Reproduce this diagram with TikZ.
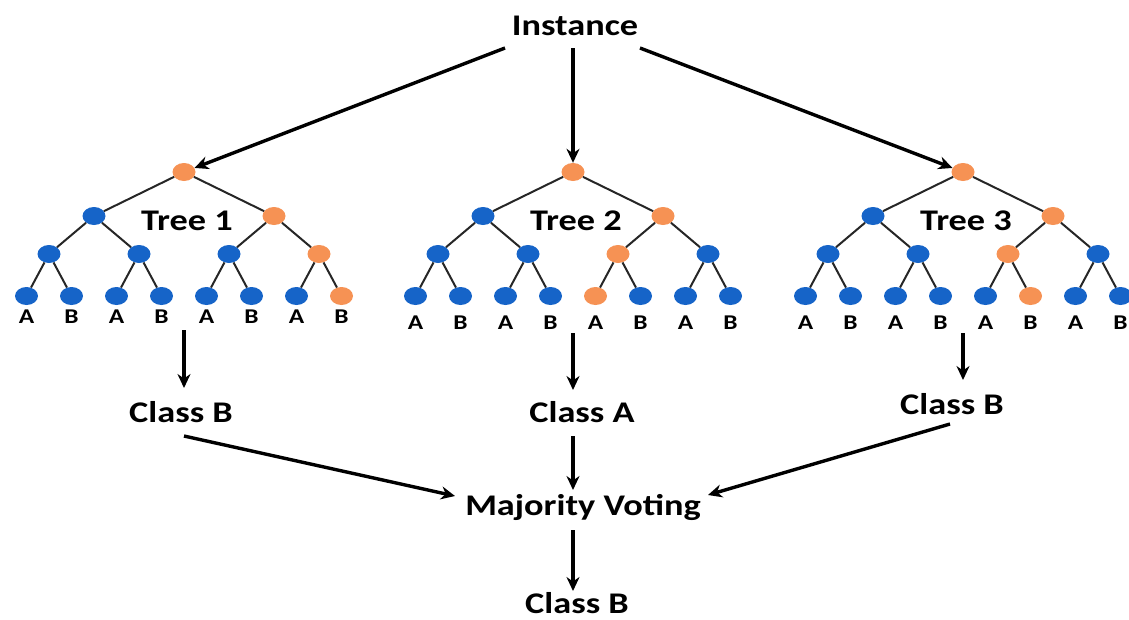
\documentclass[tikz,border=0pt]{standalone}
\usepackage{fontspec}
\usepackage{graphicx}
\setmainfont{Carlito}
\usetikzlibrary{arrows.meta,calc,shapes.geometric}
\definecolor{blu}{RGB}{22,100,200}
\definecolor{orng}{RGB}{246,146,84}
\newcommand\sx[1]{\scalebox{1.21}[1]{#1}}
\tikzset{
  tn/.style={ellipse,minimum width=23pt,minimum height=18pt,inner sep=0pt},
  edge/.style={draw=black!85,line width=2pt},
  arr/.style={draw=black,line width=3.4pt,-{Stealth[length=14pt,width=13pt]}},
  big/.style={font=\fontsize{30}{32}\selectfont\bfseries,inner sep=0pt,anchor=base},
  lbl/.style={font=\fontsize{21}{22}\selectfont\bfseries,inner sep=0pt,anchor=base},
}
\newcommand\drawtree[6]{%
  \node[tn,fill=orng] (#1r) at (#2,172) {};
  \node[tn,fill=blu] (#1l1) at (#2-90,216) {};
  \node[tn,fill=orng] (#1l2) at (#2+90,216) {};
  \foreach \i in {1,...,4}{%
    \def\col{blu}\ifnum\i=#3 \def\col{orng}\fi
    \node[tn,fill=\col] (#1m\i) at (#2+90*\i-225,254) {};
  }
  \foreach \j/\t in {1/A,2/B,3/A,4/B,5/A,6/B,7/A,8/B}{%
    \def\col{blu}\ifnum\j=#4 \def\col{orng}\fi
    \node[tn,fill=\col] (#1f\j) at (#2+45*\j-202.5,296) {};
    \node[lbl] (#1t\j) at (#2+45*\j-202.5,#5) {\sx{\t}};
  }
  \foreach \p/\c in {r/l1,r/l2,l1/m1,l1/m2,l2/m3,l2/m4,m1/f1,m1/f2,m2/f3,m2/f4,m3/f5,m3/f6,m4/f7,m4/f8}
    \draw[edge] (#1\p) -- (#1\c);
  \node[big] (#1name) at (#2+3,230) {\sx{#6}};
}
\begin{document}
\begin{tikzpicture}[x=1pt,y=-1pt]
\useasboundingbox (0,0) rectangle (1129,619);
\drawtree{a}{184}{4}{8}{323}{Tree 1}
\drawtree{b}{573}{3}{5}{329}{Tree 2}
\drawtree{c}{963}{3}{6}{329}{Tree 3}
\node[big] (inst) at (575,35) {\sx{Instance}};
\coordinate (s1) at (505,48);
\coordinate (s2) at (573,48);
\coordinate (s3) at (640,48);
\draw[arr] (s1) -- (ar);
\draw[arr] (s2) -- (br);
\draw[arr] (s3) -- (cr);
\node[big] (ca) at (181,422) {\sx{Class B}};
\node[big] (cb) at (582,422) {\sx{Class A}};
\node[big] (cc) at (952,414) {\sx{Class B}};
\coordinate (p1) at (184,330);
\coordinate (p2) at (573,333);
\coordinate (p3) at (963,333);
\coordinate (q1) at (184,388);
\coordinate (q2) at (573,390);
\coordinate (q3) at (963,380);
\draw[arr] (p1) -- (q1);
\draw[arr] (p2) -- (q2);
\draw[arr] (p3) -- (q3);
\node[big] (mv) at (583,515) {\sx{Majority Voting}};
\node[big] (fin) at (577,613) {\sx{Class B}};
\coordinate (u1) at (184,436);
\coordinate (u2) at (573,436);
\coordinate (u3) at (950,424);
\coordinate (v1) at (455,496);
\coordinate (v2) at (573,490);
\coordinate (v3) at (708,495);
\draw[arr] (u1) -- (v1);
\draw[arr] (u2) -- (v2);
\draw[arr] (u3) -- (v3);
\coordinate (w1) at (573,530);
\coordinate (w2) at (573,591);
\draw[arr] (w1) -- (w2);
\end{tikzpicture}
\end{document}
